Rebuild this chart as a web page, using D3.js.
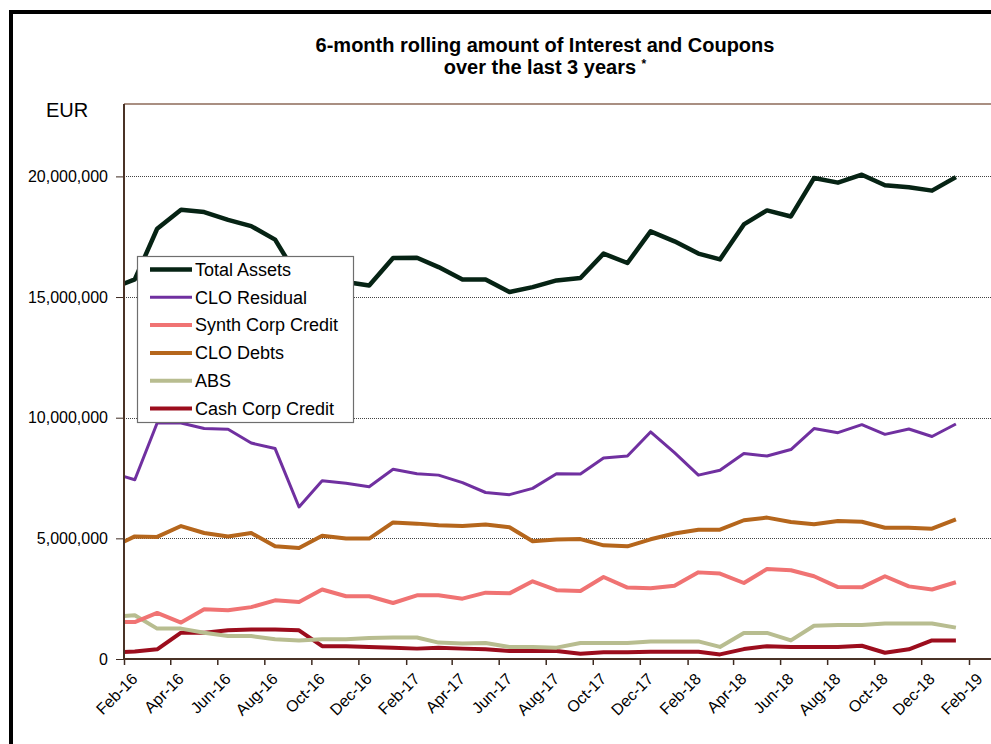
<!DOCTYPE html>
<html>
<head>
<meta charset="utf-8">
<script src="https://cdn.jsdelivr.net/npm/d3@7"></script>
<style>
  body { margin: 0; background: #ffffff; }
  svg { display: block; font-family: Arial, "Liberation Sans", sans-serif; }
</style>
</head>
<body>
<svg id="chart" width="991" height="744"></svg>
<script>
// Monthly observation periods (plotted at mid-month)
const periods = [
  "2016-01","2016-02","2016-03","2016-04","2016-05","2016-06","2016-07","2016-08","2016-09","2016-10","2016-11","2016-12",
  "2017-01","2017-02","2017-03","2017-04","2017-05","2017-06","2017-07","2017-08","2017-09","2017-10","2017-11","2017-12",
  "2018-01","2018-02","2018-03","2018-04","2018-05","2018-06","2018-07","2018-08","2018-09","2018-10","2018-11","2018-12",
  "2019-01"
];

// 6-month rolling amounts, in millions of EUR
const totalAssets = [15.35,15.73,17.83,18.62,18.52,18.20,17.94,17.38,15.75,15.70,15.62,15.48,
  16.62,16.63,16.24,15.73,15.73,15.21,15.41,15.69,15.79,16.80,16.41,17.72,
  17.31,16.80,16.56,18.01,18.59,18.34,19.93,19.74,20.07,19.63,19.55,19.41,19.97];
const cloResidual = [7.72,7.43,9.78,9.78,9.55,9.52,8.95,8.72,6.30,7.39,7.28,7.14,
  7.86,7.68,7.62,7.31,6.90,6.81,7.07,7.68,7.67,8.33,8.41,9.41,
  8.55,7.62,7.82,8.52,8.41,8.68,9.55,9.38,9.71,9.31,9.53,9.22,9.74];
const synthCorpCredit = [1.53,1.53,1.91,1.51,2.06,2.02,2.15,2.43,2.36,2.88,2.60,2.60,
  2.32,2.64,2.64,2.50,2.75,2.72,3.22,2.85,2.82,3.40,2.96,2.93,
  3.04,3.59,3.54,3.15,3.73,3.68,3.43,2.98,2.97,3.43,3.01,2.88,3.18];
const cloDebts = [4.60,5.08,5.06,5.51,5.22,5.08,5.22,4.67,4.60,5.11,4.99,4.99,
  5.66,5.61,5.54,5.51,5.57,5.46,4.88,4.95,4.97,4.71,4.67,4.96,
  5.20,5.36,5.36,5.75,5.86,5.68,5.58,5.72,5.69,5.44,5.44,5.40,5.79];
const abs = [1.75,1.81,1.26,1.26,1.09,0.95,0.95,0.82,0.77,0.82,0.82,0.87,
  0.89,0.89,0.68,0.64,0.66,0.50,0.50,0.47,0.66,0.66,0.66,0.73,
  0.73,0.73,0.50,1.08,1.08,0.77,1.38,1.41,1.41,1.47,1.47,1.47,1.30];
const cashCorpCredit = [0.27,0.31,0.40,1.09,1.09,1.19,1.22,1.22,1.19,0.53,0.53,0.50,
  0.47,0.43,0.47,0.43,0.40,0.33,0.33,0.33,0.22,0.28,0.28,0.30,
  0.30,0.30,0.19,0.41,0.53,0.50,0.50,0.50,0.55,0.26,0.40,0.77,0.77];

const seriesNames = ["Total Assets","CLO Residual","Synth Corp Credit","CLO Debts","ABS","Cash Corp Credit"];
const seriesColors = ["#062314","#7030a0","#f07373","#b5661c","#b8bd90","#9c0d1d"];
const seriesWidths = [4.5, 3, 4, 4, 4, 4];
const seriesValues = [totalAssets, cloResidual, synthCorpCredit, cloDebts, abs, cashCorpCredit];

const xTickLabels = ["Feb-16","Apr-16","Jun-16","Aug-16","Oct-16","Dec-16","Feb-17","Apr-17","Jun-17",
  "Aug-17","Oct-17","Dec-17","Feb-18","Apr-18","Jun-18","Aug-18","Oct-18","Dec-18","Feb-19"];
const yTickValues = [0, 5000000, 10000000, 15000000, 20000000];
const yMax = 23000000;

const svg = d3.select("#chart");
const W = 991, H = 744;
const plot = { left: 124, top: 104, bottom: 659, right: 1000 };

const parsePeriod = d3.timeParse("%Y-%m");
const parseTick = d3.timeParse("%b-%y");
const midMonth = p => d3.timeDay.offset(parsePeriod(p), 14);
const dates = periods.map(midMonth);

const x = d3.scaleTime()
  .domain([parseTick("Feb-16"), parseTick("Feb-19")])
  .range([124, 969]);
const y = d3.scaleLinear().domain([0, yMax]).range([plot.bottom, plot.top]);

// outer frame
svg.append("line").attr("x1", 11).attr("x2", 11).attr("y1", 10).attr("y2", H)
  .attr("stroke", "#000").attr("stroke-width", 4);
svg.append("line").attr("x1", 9).attr("x2", W).attr("y1", 12).attr("y2", 12)
  .attr("stroke", "#000").attr("stroke-width", 4);

// title
const title = svg.append("text").attr("x", 545).attr("text-anchor", "middle")
  .attr("font-weight", "bold").attr("font-size", 20).attr("fill", "#000");
title.append("tspan").attr("x", 545).attr("y", 52).text("6-month rolling amount of Interest and Coupons");
const line2 = title.append("tspan").attr("x", 545).attr("y", 74);
line2.append("tspan").text("over the last 3 years ");
line2.append("tspan").attr("dy", -6).attr("font-size", 12).text("*");

// unit label
svg.append("text").attr("x", 46).attr("y", 117).attr("font-size", 20).attr("fill", "#000").text("EUR");

// gridlines
svg.append("g").selectAll("line")
  .data(yTickValues.filter(v => v > 0))
  .join("line")
  .attr("x1", plot.left).attr("x2", plot.right)
  .attr("y1", d => Math.round(y(d)) + 0.5).attr("y2", d => Math.round(y(d)) + 0.5)
  .attr("stroke", "#444").attr("stroke-width", 1).attr("stroke-dasharray", "1,1");

// plot top border
svg.append("line").attr("x1", plot.left).attr("x2", plot.right)
  .attr("y1", plot.top).attr("y2", plot.top)
  .attr("stroke", "#8c6a58").attr("stroke-width", 1.5);

// series lines, clipped to the plot area
svg.append("clipPath").attr("id", "plotClip")
  .append("rect").attr("x", plot.left).attr("y", 0).attr("width", plot.right - plot.left).attr("height", H);

const line = d3.line().x((d, i) => x(dates[i])).y(d => y(d * 1e6));
const lines = svg.append("g").attr("clip-path", "url(#plotClip)");
seriesValues.slice().reverse().forEach((vals, k) => {
  const idx = seriesValues.length - 1 - k;
  lines.append("path").datum(vals)
    .attr("fill", "none")
    .attr("stroke", seriesColors[idx])
    .attr("stroke-width", seriesWidths[idx])
    .attr("stroke-linejoin", "round")
    .attr("d", line);
});

// y axis
const yAxis = svg.append("g").attr("transform", `translate(${plot.left},0)`)
  .call(d3.axisLeft(y).tickValues(yTickValues).tickFormat(d3.format(",")).tickSize(8).tickPadding(8));
yAxis.select(".domain").remove();
yAxis.selectAll(".tick line").attr("stroke", "#3d2a20").attr("stroke-width", 1);
yAxis.selectAll(".tick text").attr("font-size", 16).attr("fill", "#000")
  .attr("font-family", "Arial, 'Liberation Sans', sans-serif");
svg.append("line").attr("x1", plot.left).attr("x2", plot.left)
  .attr("y1", plot.top).attr("y2", plot.bottom)
  .attr("stroke", "#4a3226").attr("stroke-width", 2);

// x axis
const xTickDates = xTickLabels.map(parseTick);
const xAxis = svg.append("g").attr("transform", `translate(0,${plot.bottom})`)
  .call(d3.axisBottom(x).tickValues(xTickDates).tickFormat((d, i) => xTickLabels[i]).tickSize(6));
xAxis.select(".domain").remove();
xAxis.selectAll(".tick line").attr("stroke", "#3d2a20").attr("stroke-width", 1.5);
xAxis.selectAll(".tick text")
  .attr("font-size", 16).attr("fill", "#000")
  .attr("font-family", "Arial, 'Liberation Sans', sans-serif")
  .attr("text-anchor", "end")
  .attr("dy", null).attr("y", null)
  .attr("transform", "translate(14,21) rotate(-45)");
svg.append("line").attr("x1", plot.left - 1).attr("x2", plot.right)
  .attr("y1", plot.bottom).attr("y2", plot.bottom)
  .attr("stroke", "#4a3226").attr("stroke-width", 2);

// legend
const legend = svg.append("g").attr("transform", "translate(137,256)");
legend.append("rect").attr("x", 0.5).attr("y", 0.5).attr("width", 216).attr("height", 166)
  .attr("fill", "#fff").attr("stroke", "#6e6e6e").attr("stroke-width", 1.2);
seriesNames.forEach((name, i) => {
  const cy = 13.5 + i * 27.8;
  legend.append("line").attr("x1", 13).attr("x2", 55).attr("y1", cy).attr("y2", cy)
    .attr("stroke", seriesColors[i]).attr("stroke-width", seriesWidths[i]);
  legend.append("text").attr("x", 58).attr("y", cy).attr("dy", "0.35em")
    .attr("font-size", 18).attr("fill", "#000").text(name);
});
</script>
</body>
</html>
